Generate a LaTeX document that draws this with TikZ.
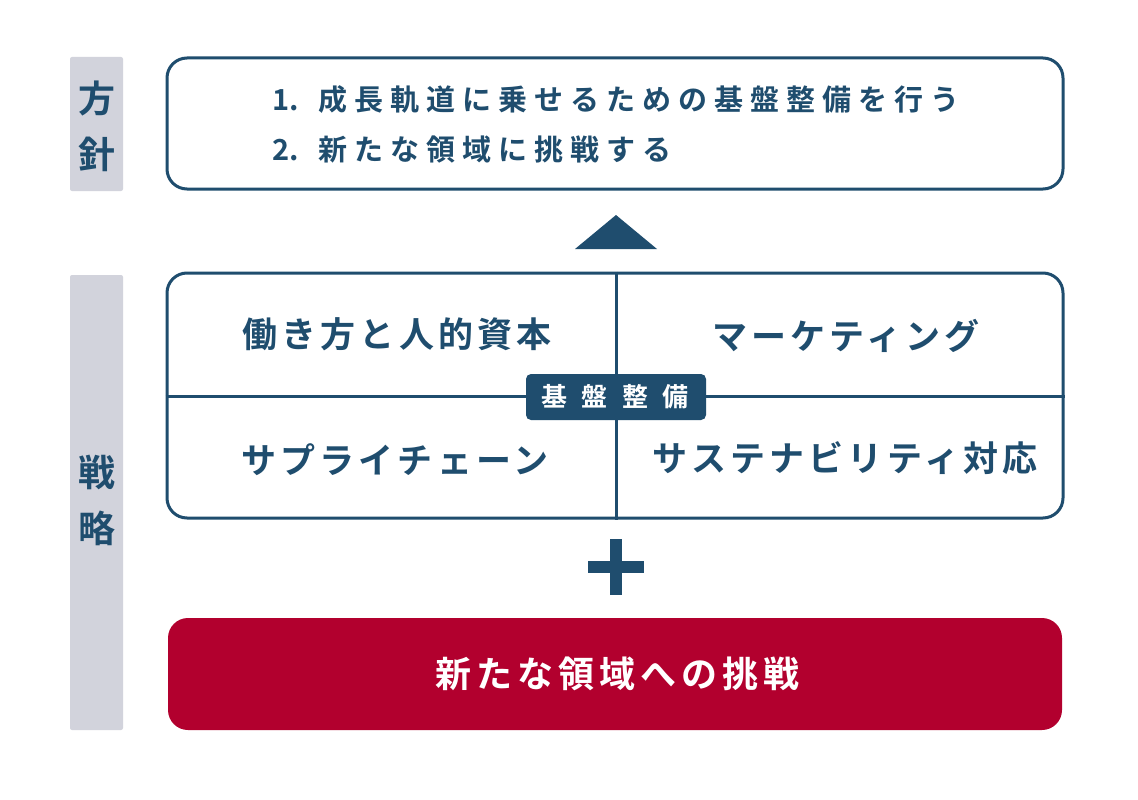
\documentclass[tikz,border=0pt]{standalone}
\usepackage{fontspec}
\newfontfamily\jp{Noto Sans CJK JP Bold}
\newfontfamily\jpA[LetterSpace=24]{Noto Sans CJK JP Bold}
\newfontfamily\jpB[LetterSpace=12]{Noto Sans CJK JP Bold}
\newfontfamily\jpR[LetterSpace=14]{Noto Sans CJK JP Bold}
\newfontfamily\jpC[LetterSpace=55]{Noto Sans CJK JP Bold}
\definecolor{navy}{HTML}{1F4D6E}
\definecolor{crimson}{HTML}{B2002E}
\definecolor{sidegray}{HTML}{D2D3DC}
\begin{document}
\begin{tikzpicture}[x=1pt,y=-1pt,
  side/.style={fill=sidegray,draw=none,rounded corners=2pt,inner sep=0pt},
  sidetext/.style={text=navy,font=\jp\fontsize{37}{56}\selectfont,align=center,inner sep=0pt},
  frame/.style={draw=navy,line width=3pt,rounded corners=20pt,inner sep=0pt},
  goal/.style={text=navy,font=\jpA\fontsize{29}{50}\selectfont,anchor=west,inner sep=0pt},
  cell/.style={text=navy,font=\jpB\fontsize{35}{40}\selectfont,inner sep=0pt},
  tag/.style={fill=navy,text=white,rounded corners=5pt,minimum width=180pt,minimum height=46pt,inner sep=0pt,font=\jpC\fontsize{26}{30}\selectfont},
  challenge/.style={fill=crimson,text=white,rounded corners=20pt,inner sep=0pt,font=\jpR\fontsize{36}{40}\selectfont}
]
\useasboundingbox[fill=white] (0,0) rectangle (1138,800);
% side labels
\node[side,minimum width=53pt,minimum height=134pt] (s1) at (96.5,124) {};
\node[sidetext] (s1t) at (96.5,126) {方\\針};
\node[side,minimum width=53pt,minimum height=455pt] (s2) at (96.5,502.5) {};
\node[sidetext] (s2t) at (96.5,500) {戦\\略};
% top box
\node[frame,minimum width=896pt,minimum height=131pt] (top) at (615,123.5) {};
\node[goal] (g1) at (272,100) {{\jp 1.}\hspace{20pt}成長軌道に乗せるための基盤整備を行う};
\node[goal] (g2) at (272,150) {{\jp 2.}\hspace{20pt}新たな領域に挑戦する};
% triangle
\fill[navy] (575,249) -- (616,215) -- (657,249) -- cycle;
% middle box
\node[frame,minimum width=896pt,minimum height=245pt] (mid) at (615,395.5) {};
\draw[navy,line width=3pt] (mid.north -| 616,0) -- (mid.south -| 616,0);
\draw[navy,line width=3pt] (mid.west |- 0,396) -- (mid.east |- 0,396);
\node[cell] (c1) at (397,334) {働き方と人的資本};
\node[cell] (c2) at (846,336) {マーケティング};
\node[cell] (c3) at (395,460) {サプライチェーン};
\node[cell] (c4) at (845,458) {サステナビリティ対応};
\node[tag] (tag) at (616,397) {\hspace*{-2pt}基盤整備};
% plus
\fill[navy] (588,561) rectangle (644,573);
\fill[navy] (610,539) rectangle (622,595);
% challenge
\node[challenge,minimum width=894pt,minimum height=112pt] (ch) at (615,674) {\hspace*{5pt}新たな領域への挑戦};
\end{tikzpicture}
\end{document}
